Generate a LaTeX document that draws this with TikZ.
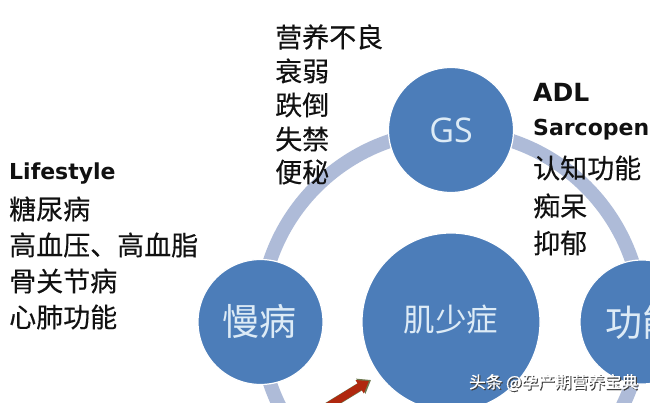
\documentclass[tikz,border=0pt]{standalone}
\usepackage{fontspec}
\setmainfont{Noto Sans CJK SC}
\newfontfamily\cjkheavy[FakeBold=0.25]{Noto Sans CJK SC}
\newfontfamily\markheavy[FakeBold=0.6]{Noto Sans CJK SC}
\newfontfamily\latinbold{DejaVu Sans Bold}
\newfontfamily\latinreg{Open Sans}
\usetikzlibrary{arrows.meta}
\definecolor{ringc}{HTML}{AEBBD8}
\definecolor{discc}{HTML}{4C7DB9}
\definecolor{disct}{HTML}{DDEBF6}
\definecolor{inkc}{HTML}{111111}
\definecolor{arrowc}{HTML}{B0280F}
\definecolor{arrowe}{HTML}{6E7A50}
\tikzset{
  disc/.style={circle,fill=discc,draw=white,line width=1.2pt,inner sep=0pt,text=disct,align=center},
  cjkline/.style={anchor=west,inner sep=0pt,text=inkc,font=\cjkheavy\fontsize{27}{27}\selectfont},
  latinline/.style={anchor=west,inner sep=0pt,text=inkc,font=\latinbold\fontsize{22}{22}\selectfont},
  wmark/.style={anchor=center,inner sep=0pt,text=white,font=\markheavy\fontsize{16.6}{16.6}\selectfont}
}
\begin{document}
\begin{tikzpicture}[x=1pt,y=-1pt]
\useasboundingbox (0,0) rectangle (650,403);
\clip (0,0) rectangle (650,403);
\fill[white] (0,0) rectangle (650,403);
\coordinate (hub) at (451,322);
\draw[ringc,line width=14pt] (hub) circle[radius=191pt];
% discs
\node[disc,minimum size=125pt,font=\latinreg\fontsize{34}{34}\selectfont] (gs) at (451,130) {GS};
\node[disc,minimum size=125pt] (man) at (260.5,322) {};
\node[text=disct,inner sep=0pt,font=\fontsize{37}{37}\selectfont] (mant) at (259,321) {慢病};
\node[disc,minimum size=178pt] (ji) at (451,322) {};
\node[text=disct,inner sep=0pt,font=\fontsize{31.5}{31.5}\selectfont] (jit) at (451,320) {肌少症};
\node[disc,minimum size=124pt] (gong) at (642,322) {};
\node[text=disct,inner sep=0pt,anchor=west,font=\fontsize{37}{37}\selectfont] (gongt) at (605,322) {功能};
% arrow
\coordinate (astart) at (322,410);
\coordinate (aend) at (371,380);
\draw[arrowe,line width=8.5pt,-{Triangle[length=12pt,width=17pt]}] (astart) -- (aend);
\draw[arrowc,line width=7.5pt,-{Triangle[length=11pt,width=15pt]}] (astart) -- (369,381);
% top list
\node[cjkline] (t1) at (275,37) {营养不良};
\node[cjkline] (t2) at (275,71) {衰弱};
\node[cjkline] (t3) at (275,105) {跌倒};
\node[cjkline] (t4) at (275,139) {失禁};
\node[cjkline] (t5) at (275,172) {便秘};
% left list
\node[latinline] (l1) at (9,174) {Lifestyle};
\node[cjkline] (l2) at (9,209) {糖尿病};
\node[cjkline] (l3) at (9,245) {高血压、高血脂};
\node[cjkline] (l4) at (9,281) {骨关节病};
\node[cjkline] (l5) at (9,317) {心肺功能};
% right list
\node[latinline,font=\latinbold\fontsize{25}{25}\selectfont] (r1) at (533,92) {ADL};
\node[latinline] (r2) at (533,130) {Sarcopen};
\node[cjkline] (r3) at (533,168) {认知功能};
\node[cjkline] (r4) at (533,206) {痴呆};
\node[cjkline] (r5) at (533,243) {抑郁};
% watermark
\node[wmark,text=black!75] (ws) at (554.6,383.6) {头条 @孕产期营养宝典};
\node[wmark] (w) at (553.5,382.5) {头条 @孕产期营养宝典};
\end{tikzpicture}
\end{document}
